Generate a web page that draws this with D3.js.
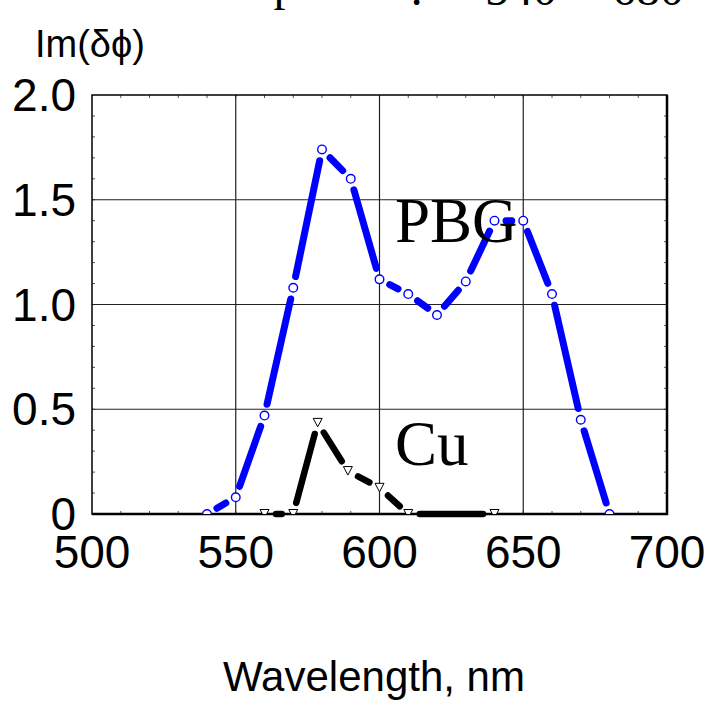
<!DOCTYPE html>
<html>
<head>
<meta charset="utf-8">
<script src="https://cdn.jsdelivr.net/npm/d3@7"></script>
<style>
  body { margin: 0; background: #fff; }
  svg { display: block; }
</style>
</head>
<body>
<div id="chart"></div>
<script>
// Data
const pbgWavelength = [540, 550, 560, 570, 580, 590, 600, 610, 620, 630, 640, 650, 660, 670, 680];
const pbgValue = [0, 0.08, 0.47, 1.08, 1.74, 1.6, 1.12, 1.05, 0.95, 1.11, 1.4, 1.4, 1.05, 0.45, 0];
const cuWavelength = [560, 570, 578.5, 589, 600, 610, 640];
const cuValue = [0, 0, 0.435, 0.205, 0.125, 0, 0];
const xTicks = [500, 550, 600, 650, 700];
const yTicks = [0, 0.5, 1.0, 1.5, 2.0];
const yTickLabels = ['0', '0.5', '1.0', '1.5', '2.0'];

const width = 709;
const height = 706;
const margin = { top: 95, right: 42, bottom: 192, left: 92 };

const svg = d3
  .select('#chart')
  .append('svg')
  .attr('width', width)
  .attr('height', height);

const x = d3.scaleLinear().domain([500, 700]).range([margin.left, width - margin.right]);
const y = d3.scaleLinear().domain([0, 2]).range([height - margin.bottom, margin.top]);

// clip for markers
svg.append('clipPath').attr('id', 'plotClip')
  .append('rect')
  .attr('x', x(500)).attr('y', y(2))
  .attr('width', x(700) - x(500)).attr('height', y(0) - y(2));

// minor ticks, inward
const minorX = d3.range(510, 700, 10);
const minorY = d3.range(0.1, 2.0, 0.1);
const tickLen = 3;
svg.append('g').selectAll('line').data(minorX).enter().append('line')
  .attr('x1', (d) => x(d)).attr('x2', (d) => x(d))
  .attr('y1', y(0)).attr('y2', y(0) - tickLen)
  .attr('stroke', '#555').attr('stroke-width', 1);
svg.append('g').selectAll('line').data(minorX).enter().append('line')
  .attr('x1', (d) => x(d)).attr('x2', (d) => x(d))
  .attr('y1', y(2)).attr('y2', y(2) + tickLen)
  .attr('stroke', '#555').attr('stroke-width', 1);
svg.append('g').selectAll('line').data(minorY).enter().append('line')
  .attr('x1', x(500)).attr('x2', x(500) + tickLen)
  .attr('y1', (d) => y(d)).attr('y2', (d) => y(d))
  .attr('stroke', '#555').attr('stroke-width', 1);
svg.append('g').selectAll('line').data(minorY).enter().append('line')
  .attr('x1', x(700)).attr('x2', x(700) - tickLen)
  .attr('y1', (d) => y(d)).attr('y2', (d) => y(d))
  .attr('stroke', '#555').attr('stroke-width', 1);

// grid
svg.append('g').selectAll('line').data(xTicks.slice(1, -1)).enter().append('line')
  .attr('x1', (d) => x(d)).attr('x2', (d) => x(d))
  .attr('y1', y(0)).attr('y2', y(2))
  .attr('stroke', '#222').attr('stroke-width', 1.2);
svg.append('g').selectAll('line').data(yTicks.slice(1, -1)).enter().append('line')
  .attr('x1', x(500)).attr('x2', x(700))
  .attr('y1', (d) => y(d)).attr('y2', (d) => y(d))
  .attr('stroke', '#222').attr('stroke-width', 1.2);

// frame
svg.append('rect')
  .attr('x', x(500)).attr('y', y(2))
  .attr('width', x(700) - x(500)).attr('height', y(0) - y(2))
  .attr('fill', 'none').attr('stroke', '#000').attr('stroke-width', 1.5);
svg.append('polyline')
  .attr('points', [[x(500), y(0)], [x(700), y(0)], [x(700), y(2)]].join(' '))
  .attr('fill', 'none').attr('stroke', '#000').attr('stroke-width', 2.5);

// segments with gaps around markers
function drawSeries(xs, ys, color, lineWidth) {
  const pts = xs.map((d, i) => [x(d), y(ys[i])]);
  const gap = 11.5;
  const segs = [];
  for (let i = 0; i < pts.length - 1; i++) {
    const [x1, y1] = pts[i];
    const [x2, y2] = pts[i + 1];
    const len = Math.hypot(x2 - x1, y2 - y1);
    if (len <= gap * 2) continue;
    const ux = (x2 - x1) / len;
    const uy = (y2 - y1) / len;
    segs.push([x1 + ux * gap, y1 + uy * gap, x2 - ux * gap, y2 - uy * gap]);
  }
  svg.append('g').selectAll('line').data(segs).enter().append('line')
    .attr('x1', (d) => d[0]).attr('y1', (d) => d[1])
    .attr('x2', (d) => d[2]).attr('y2', (d) => d[3])
    .attr('stroke', color)
    .attr('stroke-width', lineWidth)
    .attr('stroke-linecap', 'round');
  return pts;
}

const pbgPts = drawSeries(pbgWavelength, pbgValue, '#0000ff', 7);
const cuPts = drawSeries(cuWavelength, cuValue, '#000', 6.5);

const markers = svg.append('g').attr('clip-path', 'url(#plotClip)');
markers.selectAll('circle').data(pbgPts).enter().append('circle')
  .attr('cx', (d) => d[0]).attr('cy', (d) => d[1])
  .attr('r', 4.3)
  .attr('fill', '#fff').attr('stroke', '#0000ff').attr('stroke-width', 1.4);
markers.selectAll('path').data(cuPts).enter().append('path')
  .attr('d', (d) => `M${d[0] - 4.5},${d[1] - 4.5}L${d[0] + 4.5},${d[1] - 4.5}L${d[0]},${d[1] + 4}Z`)
  .attr('fill', '#fff').attr('stroke', '#000').attr('stroke-width', 1);

// tick labels
const sans = 'Liberation Sans, Arial, sans-serif';
svg.append('g').selectAll('text').data(xTicks).enter().append('text')
  .attr('x', (d) => x(d)).attr('y', 568)
  .attr('text-anchor', 'middle')
  .style('font-family', sans).style('font-size', '46px')
  .text((d) => d);
svg.append('g').selectAll('text').data(yTicks).enter().append('text')
  .attr('x', 76).attr('y', (d) => y(d) + 16)
  .attr('text-anchor', 'end')
  .style('font-family', sans).style('font-size', '46px')
  .text((d, i) => yTickLabels[i]);

// axis titles
svg.append('text')
  .attr('x', 35).attr('y', 57)
  .style('font-family', sans).style('font-size', '38px')
  .text('Im(δϕ)');
svg.append('text')
  .attr('x', 374).attr('y', 691)
  .attr('text-anchor', 'middle')
  .style('font-family', sans).style('font-size', '42px')
  .text('Wavelength, nm');

// series labels
const serif = 'Liberation Serif, Times New Roman, serif';
svg.append('text')
  .attr('x', 395).attr('y', 242)
  .style('font-family', serif).style('font-size', '63px')
  .text('PBG');
svg.append('text')
  .attr('x', 395).attr('y', 465)
  .style('font-family', serif).style('font-size', '63px')
  .text('Cu');

// title, cut off at the top edge
const title = svg.append('text')
  .style('font-family', serif).style('font-size', '48px');
title.append('tspan').attr('x', 189).attr('y', 0).text('Temperature');
title.append('tspan').attr('x', 410).attr('y', 5).text(':');
title.append('tspan').attr('x', 485).attr('y', 5).text('540');
title.append('tspan').attr('x', 572).attr('y', 5).text('-');
title.append('tspan').attr('x', 612).attr('y', 5).text('680');
</script>
</body>
</html>
